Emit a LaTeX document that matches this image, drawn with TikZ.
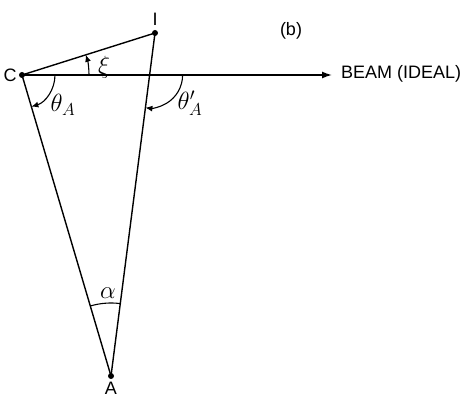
\documentclass[tikz,border=0pt]{standalone}
\usepackage{fontspec}
\setmainfont{Liberation Sans}
\usetikzlibrary{arrows.meta,positioning,calc}

\begin{document}
\begin{tikzpicture}[x=1pt,y=1pt,>=Latex,
dot/.style={circle,fill=black,inner sep=0pt,minimum size=6pt},
line/.style={line width=1.4pt},
anglearc/.style={line width=1.1pt,->,>={Latex[length=7pt,width=6pt]}},
lab/.style={font=\fontsize{18}{18}\selectfont,inner sep=1pt},
glab/.style={font=\fontsize{23}{23}\selectfont,inner sep=0pt}]
\useasboundingbox (0,0) rectangle (464,-398);
% points
\node[dot] (C) at (22,-75) {};
\node[dot] (I) at (155,-33) {};
\node[dot] (A) at (111,-376) {};
\coordinate (X) at ($(I)!0.1224!(A)$);
\coordinate (beam) at (332,-75);
% lines
\draw[line] (C.center)--(I.center);
\draw[line] (I.center)--(A.center);
\draw[line] (C.center)--(A.center);
\draw[line,->,>={Latex[length=10pt,width=7pt]}] (C.center)--(beam);
% angles
\draw[anglearc] ($(C.center)+(67,0)$) arc[start angle=0,end angle=17.5,radius=67];
\draw[anglearc] ($(C.center)+(33,0)$) arc[start angle=0,end angle=-73.5,radius=33];
\draw[anglearc] ($(X)+(33,0)$) arc[start angle=0,end angle=-97.3,radius=33];
\draw[line width=1.1pt] ($(A.center)+(106.5:73)$) arc[start angle=106.5,end angle=82.7,radius=73];
% labels
\node[lab] (Clab) at (10,-75) {C};
\node[lab] (Ilab) at (155,-19) {I};
\node[lab] (Alab) at (111,-388) {A};
\node[lab,anchor=west] (beamlab) at (340,-74) {BEAM (IDEAL)};
\node[lab] (blab) at (291,-31) {(b)};
\node[glab] (xi) at (104,-67) {$\xi$};
\node[glab] (thA) at (63,-105) {$\theta_A$};
\node[glab] (thAp) at (190,-103) {$\theta'_A$};
\node[glab] (alpha) at (108,-293) {$\alpha$};
\end{tikzpicture}
\end{document}
